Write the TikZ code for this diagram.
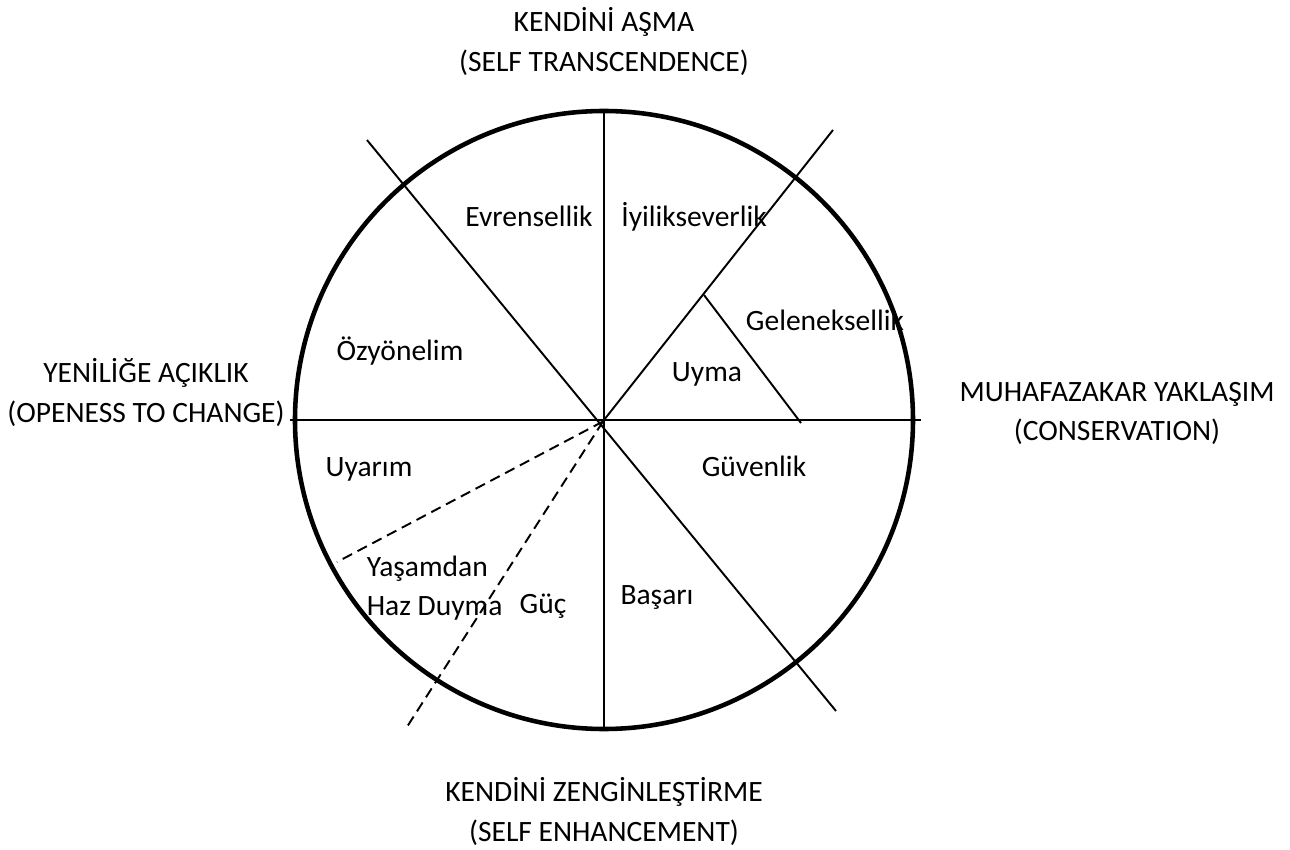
\documentclass[tikz,border=0pt]{standalone}
\usepackage{fontspec}
\setmainfont{Carlito}

\begin{document}
\begin{tikzpicture}[value/.style={text height=1.5ex,text depth=0.3ex}]
            \fontsize{16.8}{22.6}\selectfont
            \useasboundingbox (-12.08,-8.6) rectangle (13.72,8.4);
            \draw[line width=2.6pt] (0,0) circle (6.18);
            \draw[line width=1.1pt] (0,6.18) -- (0,-6.18);
            \draw[line width=1.1pt] (-6.28,0) -- (6.34,0);
            \draw[line width=1.1pt] (-4.74,5.6) -- (4.64,-5.82);
            \draw[line width=1.1pt] (0,0) -- (4.58,5.8);
            \draw[line width=1.1pt] (2.0,2.5) -- (3.94,-0.06);
            \draw[line width=1.1pt,dash pattern=on 6pt off 3.5pt] (-0.02,-0.03) -- (-5.34,-2.84);
            \draw[line width=1.1pt,dash pattern=on 6pt off 3.5pt] (-0.02,-0.03) -- (-3.98,-6.2);
            % side labels
            \node[align=center] (top) at (0,7.57) {KENDİNİ AŞMA\\(SELF TRANSCENDENCE)};
            \node[align=center] (left) at (-9.16,0.55) {YENİLİĞE AÇIKLIK\\(OPENESS TO CHANGE)};
            \node[align=center] (right) at (10.26,0.13) {MUHAFAZAKAR YAKLAŞIM\\(CONSERVATION)};
            \node[align=center] (bottom) at (0,-7.83) {KENDİNİ ZENGİNLEŞTİRME\\(SELF ENHANCEMENT)};
            % values
            \node[value] (evrensellik) at (-1.5,4.04) {Evrensellik};
            \node[value] (iyilik) at (1.8,4.04) {İyilikseverlik};
            \node[value] (gelenek) at (4.42,1.96) {Geleneksellik};
            \node[value] (ozyonelim) at (-4.08,1.36) {Özyönelim};
            \node[value] (uyma) at (2.06,0.94) {Uyma};
            \node[value] (uyarim) at (-4.7,-0.96) {Uyarım};
            \node[value] (guvenlik) at (3.0,-0.96) {Güvenlik};
            \node[align=left,anchor=west,inner sep=0pt] (haz) at (-4.75,-3.36) {Yaşamdan\\Haz Duyma};
            \node[value] (guc) at (-1.22,-3.7) {Güç};
            \node[value] (basari) at (1.06,-3.52) {Başarı};
        \end{tikzpicture}
\end{document}
